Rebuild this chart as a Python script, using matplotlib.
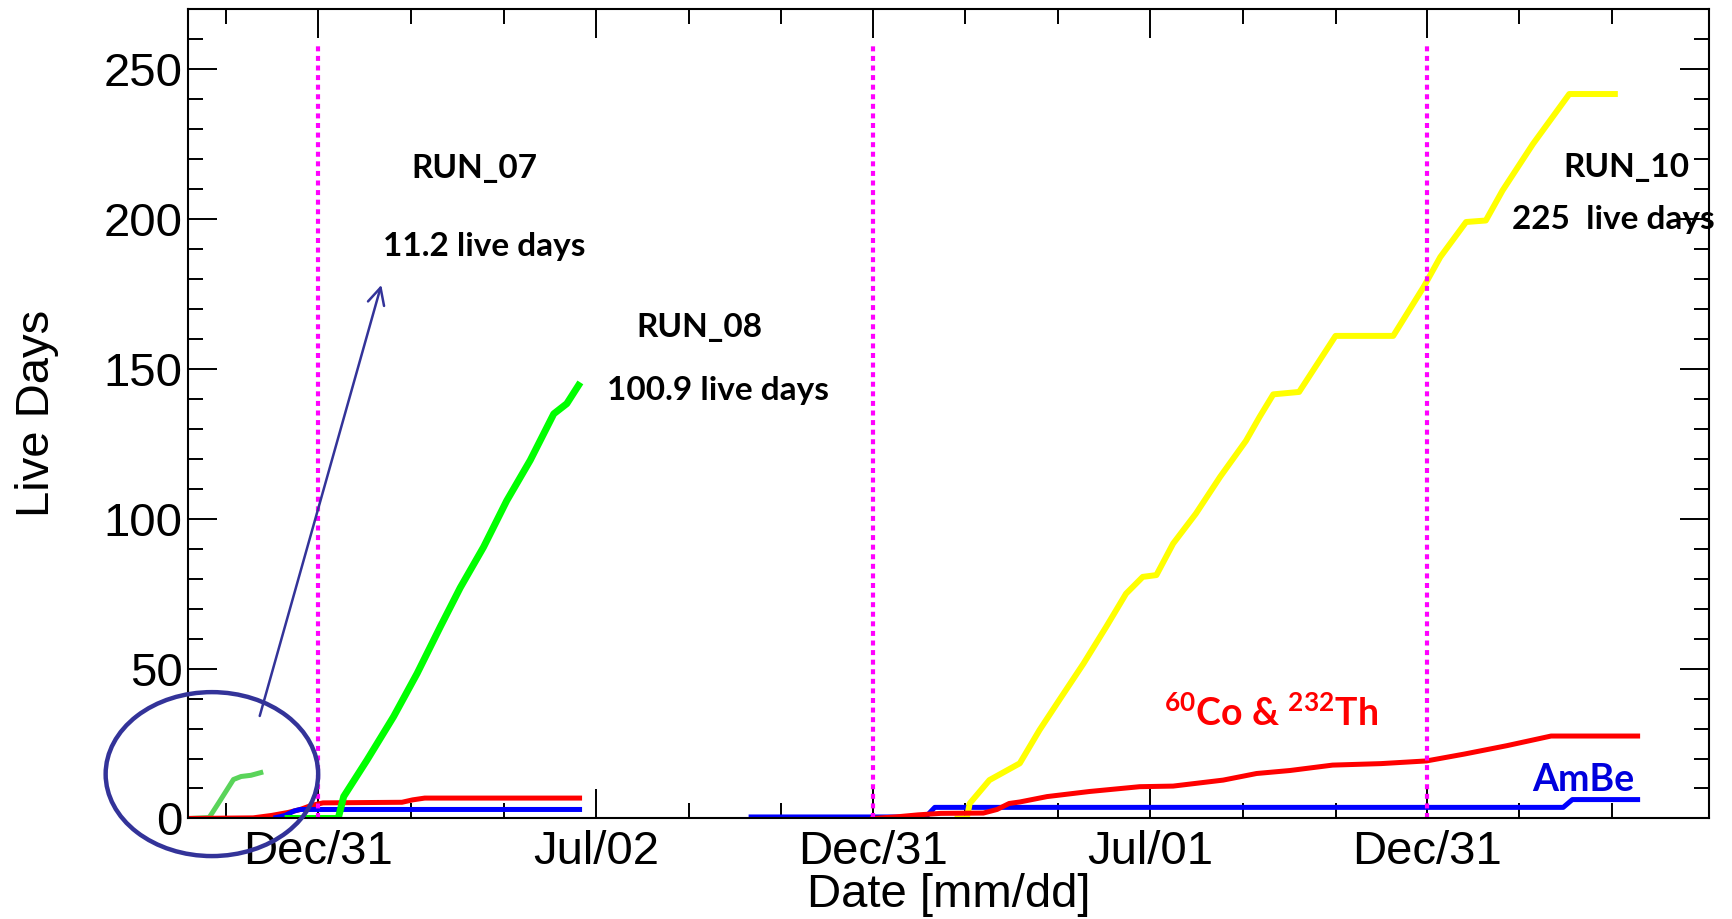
import matplotlib
matplotlib.use("Agg")
import matplotlib.pyplot as plt
from matplotlib.patches import Ellipse

plt.rcParams['font.family'] = ['Liberation Sans', 'DejaVu Sans']
plt.rcParams['mathtext.fontset'] = 'custom'
plt.rcParams['mathtext.rm'] = 'Lato:bold'
plt.rcParams['mathtext.it'] = 'Lato:bold'
plt.rcParams['mathtext.bf'] = 'Lato:bold'

# x = days since the first Dec/31 tick, y = accumulated live days
tick_pos = [0, 183, 365, 548, 730]
tick_lab = ['Dec/31', 'Jul/02', 'Dec/31', 'Jul/01', 'Dec/31']
minor_pos = [-61, 61, 122, 244, 305, 426, 487, 609, 670, 791, 852]
run_bounds = [0, 365, 730]

run07_x = [-85, -72, -66, -61, -56, -51, -44.5, -38]
run07_y = [0, 0.3, 5, 9, 13, 14, 14.4, 15.3]

run08_x = [-20, 13, 16.6, 32, 49.5, 65, 80.3, 93.4, 108.8, 124, 139.5, 155, 163.6, 171.3]
run08_y = [0, 0, 7.3, 19.5, 34, 48.4, 64, 77, 90.6, 106, 119.5, 135, 138.4, 144.5]

run10_x = [421, 427, 429, 442, 462, 475, 488, 504, 519, 532, 543, 552, 563, 578, 594,
           611, 620, 629, 646, 670, 708, 728, 739, 756, 769, 780, 800, 824, 854]
run10_y = [0, 0, 5, 12.8, 18.4, 29.5, 39.5, 51.7, 64, 75, 80.6, 81.2, 91.7, 101.7, 114,
           126, 134, 141.5, 142.3, 161, 161, 177.3, 187.3, 199, 199.5, 209.5, 225, 241.7, 241.7]

coth_a_x = [-86, -43, -31, -20, -12, -5, 3, 55, 62, 70, 172]
coth_a_y = [0, 0.2, 1, 2, 3, 4.3, 5.2, 5.4, 6.2, 6.8, 6.8]
coth_b_x = [365, 380, 395, 410, 438, 447, 455, 462, 480, 508, 541, 563, 596, 618, 640,
            668, 700, 730, 755, 783, 812, 869]
coth_b_y = [0, 0.5, 1.2, 1.7, 1.8, 3, 5, 5.5, 7.3, 9, 10.6, 10.8, 12.8, 15, 16,
            17.8, 18.3, 19.2, 21.5, 24.3, 27.5, 27.5]

ambe_a_x = [-28, -22, -16, -12, 172]
ambe_a_y = [0.3, 1, 2.5, 3, 3]
ambe_b_x = [285, 400, 406, 820, 826, 869]
ambe_b_y = [0.5, 0.5, 3.7, 3.7, 6.3, 6.3]

fig = plt.figure(figsize=(17.32, 9.19), dpi=100)
ax = fig.add_axes([0.1085, 0.1094, 0.8782, 0.8806])

ax.plot(run07_x, run07_y, color='#5ad45a', lw=3.6)
ax.plot(coth_a_x, coth_a_y, color='#ff0000', lw=3.6)
ax.plot(ambe_a_x, ambe_a_y, color='#0000ff', lw=3.6)
ax.plot(run08_x, run08_y, color='#00ff00', lw=5)
ax.plot(ambe_b_x, ambe_b_y, color='#0000ff', lw=3.6)
ax.plot(run10_x, run10_y, color='#ffff00', lw=4.3)
ax.plot(coth_b_x, coth_b_y, color='#ff0000', lw=3.6)

for xb in run_bounds:
    ax.plot([xb, xb], [0, 258], color='#ff00ff', lw=3, ls=(0, (1.2, 1.1)))

ax.add_patch(Ellipse((-70.2, 14.8), 140, 54.7, fill=False, ec='#333399', lw=3.2,
                     clip_on=False, zorder=5))
ax.annotate('', xy=(41.4, 178), xytext=(-38.7, 34.2),
            arrowprops=dict(arrowstyle='->', color='#333399', lw=1.8,
                            mutation_scale=30, shrinkA=0, shrinkB=0))

txt = dict(family=['Lato', 'DejaVu Sans'], fontweight='bold', ha='center', va='baseline')
ax.text(102.6, 213.8, 'RUN_07', fontsize=24, **txt)
ax.text(109.3, 187.5, '11.2 live days', fontsize=24, **txt)
ax.text(250.8, 160.6, 'RUN_08', fontsize=24, **txt)
ax.text(263.3, 139.5, '100.9 live days', fontsize=24, **txt)
ax.text(861.7, 214, 'RUN_10', fontsize=24, **txt)
ax.text(853.2, 196.7, '225  live days', fontsize=24, **txt)
ax.text(627.4, 30.9, r'$^{60}$Co & $^{232}$Th', fontsize=27, color='#ff0000', **txt)
ax.text(833.5, 9.2, 'AmBe', fontsize=27, color='#0000dd', **txt)

ax.set_xlim(-86, 916)
ax.set_ylim(0, 270)
ax.set_xticks(tick_pos)
ax.set_xticklabels(tick_lab)
ax.set_xticks(minor_pos, minor=True)
ax.set_yticks(range(0, 251, 50))
ax.set_yticks(range(0, 261, 10), minor=True)
ax.tick_params(which='both', direction='in', top=True, right=True, width=1.4,
               labelsize=34)
ax.tick_params(axis='x', which='major', length=21, pad=8)
ax.tick_params(axis='y', which='major', length=21, pad=4)
ax.tick_params(which='minor', length=11)
for sp in ax.spines.values():
    sp.set_linewidth(1.5)

ax.set_ylabel('Live Days', fontsize=34)
ax.set_xlabel('Date [mm/dd]', fontsize=34)
ax.yaxis.set_label_coords(-0.085, 0.5)
ax.xaxis.set_label_coords(0.5, -0.068)

fig.savefig('out.png', dpi=100)
